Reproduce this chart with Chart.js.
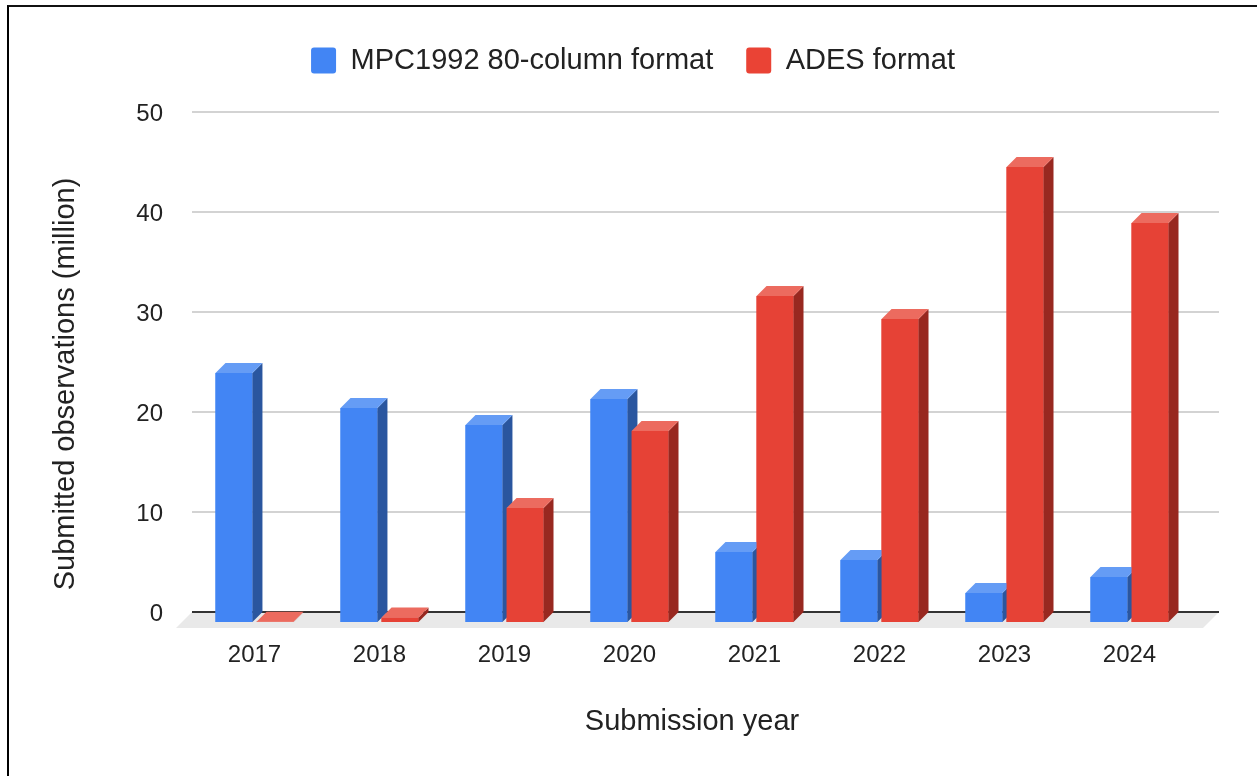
<!DOCTYPE html>
<html>
<head>
<meta charset="utf-8">
<script src="https://cdn.jsdelivr.net/npm/chart.js@4/dist/chart.umd.min.js"></script>
<style>
  html, body { margin: 0; padding: 0; background: #ffffff; }
  #wrap { position: relative; width: 1257px; height: 776px; overflow: hidden; }
  #frame { position: absolute; left: 7px; top: 5px; right: -10px; bottom: -10px;
           border-top: 2px solid #111; border-left: 2px solid #000; pointer-events: none; }
  canvas { position: absolute; left: 0; top: 0; }
</style>
</head>
<body>
<div id="wrap">
  <canvas id="chart" width="1257" height="776"></canvas>
  <div id="frame"></div>
</div>
<script>
// Submitted observations per year, in millions
const years = ['2017', '2018', '2019', '2020', '2021', '2022', '2023', '2024'];
const mpc1992Values = [24.9, 21.4, 19.7, 22.3, 7.0, 6.2, 2.9, 4.5];
const adesValues = [0.03, 0.45, 11.4, 19.1, 32.6, 30.3, 45.5, 39.9];
const yTickValues = [0, 10, 20, 30, 40, 50];

const FONT = '"Liberation Sans", Arial, Helvetica, sans-serif';
const TEXT = '#222222';

// Extrusion of the 3D look (pixels)
const DEPTH_X = 10;
const DEPTH_Y = 10;

const faceShades = [
  { side: '#2a569f', top: '#659cf5' },
  { side: '#982820', top: '#ec6b5f' }
];

function fillPoly(ctx, pts) {
  ctx.beginPath();
  ctx.moveTo(pts[0][0], pts[0][1]);
  for (let i = 1; i < pts.length; i++) ctx.lineTo(pts[i][0], pts[i][1]);
  ctx.closePath();
  ctx.fill();
}

// Back wall gridlines, floor and baseline, drawn behind the bars
const wallAndFloor = {
  id: 'wallAndFloor',
  beforeDatasetsDraw(chart) {
    const { ctx, chartArea: a, scales: { y } } = chart;
    const zero = y.getPixelForValue(0);
    const backRight = a.right + 27;
    ctx.save();
    ctx.fillStyle = '#e9e9e9';
    fillPoly(ctx, [
      [a.left, zero - DEPTH_Y],
      [backRight, zero - DEPTH_Y],
      [backRight - 16, zero + 6],
      [a.left - 16, zero + 6]
    ]);
    ctx.strokeStyle = '#d3d3d3';
    ctx.lineWidth = 2;
    y.ticks.forEach(t => {
      if (t.value === 0) return;
      const py = Math.round(y.getPixelForValue(t.value) - DEPTH_Y);
      ctx.beginPath();
      ctx.moveTo(a.left, py);
      ctx.lineTo(backRight, py);
      ctx.stroke();
    });
    ctx.strokeStyle = '#333333';
    ctx.lineWidth = 2;
    const pz = Math.round(zero - DEPTH_Y);
    ctx.beginPath();
    ctx.moveTo(a.left, pz);
    ctx.lineTo(backRight, pz);
    ctx.stroke();
    ctx.restore();
  }
};

// Side and top faces of every bar, series by series so nearer bars overlap correctly
const extrudedBars = {
  id: 'extrudedBars',
  afterDatasetsDraw(chart) {
    const ctx = chart.ctx;
    ctx.save();
    chart.data.datasets.forEach((ds, di) => {
      const meta = chart.getDatasetMeta(di);
      if (meta.hidden) return;
      const shade = faceShades[di];
      meta.data.forEach(bar => {
        const { x, y, base, width } = bar.getProps(['x', 'y', 'base', 'width'], true);
        const l = x - width / 2;
        const r = x + width / 2;
        bar.draw(ctx, chart.chartArea);
        ctx.fillStyle = shade.side;
        fillPoly(ctx, [[r, y], [r + DEPTH_X, y - DEPTH_Y], [r + DEPTH_X, base - DEPTH_Y], [r, base]]);
        ctx.fillStyle = shade.top;
        fillPoly(ctx, [[l, y], [l + DEPTH_X, y - DEPTH_Y], [r + DEPTH_X, y - DEPTH_Y], [r, y]]);
      });
    });
    ctx.restore();
  }
};

// Vertical axis title
const yAxisTitle = {
  id: 'yAxisTitle',
  afterDraw(chart) {
    const ctx = chart.ctx;
    ctx.save();
    ctx.translate(66, 384);
    ctx.rotate(-Math.PI / 2);
    ctx.font = '29px ' + FONT;
    ctx.fillStyle = TEXT;
    ctx.textAlign = 'center';
    ctx.textBaseline = 'middle';
    ctx.fillText('Submitted observations (million)', 0, 0);
    ctx.restore();
  }
};

Chart.defaults.font.family = FONT;
Chart.defaults.color = TEXT;

new Chart(document.getElementById('chart'), {
  type: 'bar',
  data: {
    labels: years,
    datasets: [
      {
        label: 'MPC1992 80-column format',
        data: mpc1992Values,
        backgroundColor: '#4285f4',
        borderWidth: 0,
        barPercentage: 0.9,
        categoryPercentage: 0.657
      },
      {
        label: 'ADES format',
        data: adesValues,
        backgroundColor: '#e64236',
        borderWidth: 0,
        barPercentage: 0.9,
        categoryPercentage: 0.657
      }
    ]
  },
  options: {
    responsive: false,
    animation: false,
    devicePixelRatio: 1,
    layout: { padding: { top: 13, left: 74, right: 65, bottom: 0 } },
    plugins: {
      legend: {
        position: 'top',
        align: 'center',
        labels: {
          boxWidth: 25,
          boxHeight: 26,
          padding: 33,
          color: TEXT,
          font: { size: 29 },
          useBorderRadius: true,
          borderRadius: 3,
          generateLabels(chart) {
            return chart.data.datasets.map((ds, i) => ({
              text: ds.label,
              fillStyle: i === 0 ? '#4285f4' : '#ea4335',
              strokeStyle: 'rgba(0,0,0,0)',
              lineWidth: 0,
              borderRadius: 3,
              fontColor: TEXT,
              hidden: false,
              datasetIndex: i
            }));
          }
        }
      },
      subtitle: {
        display: true,
        text: '',
        position: 'top',
        weight: 500,
        font: { size: 10 },
        padding: { top: 0, bottom: 25 }
      },
      tooltip: { enabled: false }
    },
    scales: {
      x: {
        grid: { display: false, drawTicks: false },
        border: { display: false },
        ticks: { padding: 19, font: { size: 24 }, color: TEXT },
        title: {
          display: true,
          text: 'Submission year',
          font: { size: 29 },
          color: TEXT,
          padding: { top: 0, bottom: 37 }
        },
        afterFit(scale) { scale.height = 154; }
      },
      y: {
        min: 0,
        max: 50,
        grid: { display: false, drawTicks: false },
        border: { display: false },
        ticks: { padding: 29, labelOffset: -8, font: { size: 24 }, color: TEXT },
        afterBuildTicks(scale) { scale.ticks = yTickValues.map(v => ({ value: v })); },
        afterFit(scale) { scale.width = 118; }
      }
    }
  },
  plugins: [wallAndFloor, extrudedBars, yAxisTitle]
});
</script>
</body>
</html>
